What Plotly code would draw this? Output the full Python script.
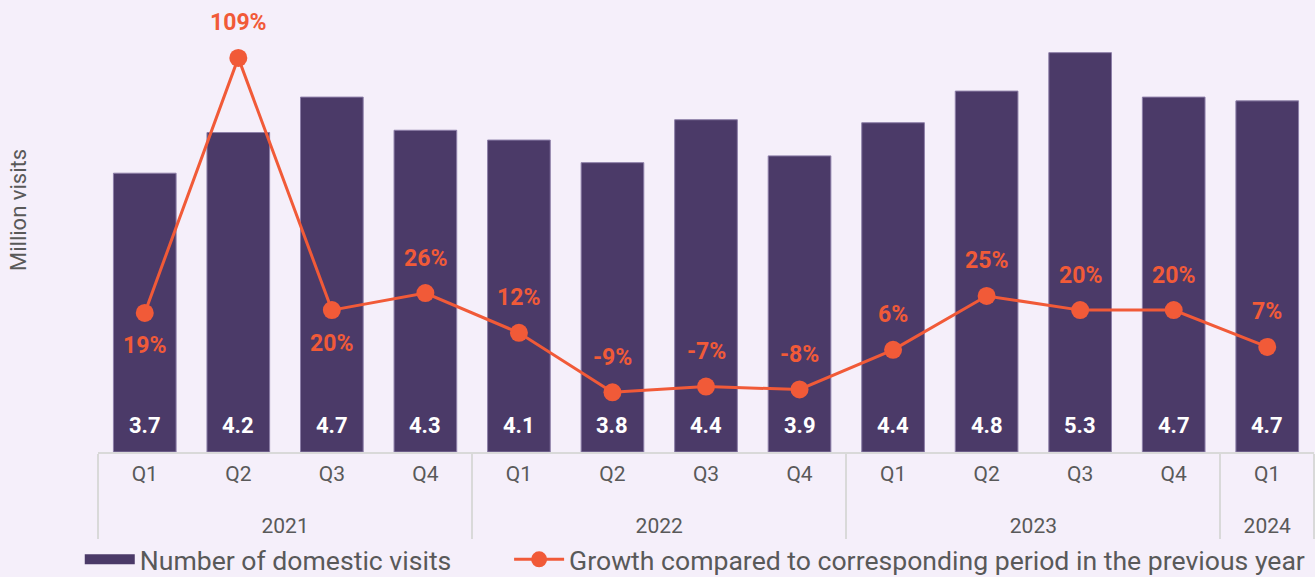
import plotly.graph_objects as go

# data
quarters = ['Q1', 'Q2', 'Q3', 'Q4', 'Q1', 'Q2', 'Q3', 'Q4', 'Q1', 'Q2', 'Q3', 'Q4', 'Q1']
years = ['2021'] * 4 + ['2022'] * 4 + ['2023'] * 4 + ['2024']
visits = [3.70, 4.24, 4.71, 4.27, 4.14, 3.84, 4.41, 3.93, 4.37, 4.79, 5.30, 4.71, 4.66]
growth = [19, 109, 20, 26, 12, -9, -7, -8, 6, 25, 20, 20, 7]
label_below = [True, False, True, False, False, False, False, False, False, False, False, False, False]

BAR_COLOR = '#4b3a68'
LINE_COLOR = '#f15a38'
BG = '#f5effa'
GREY = '#595959'
FONT = 'Roboto'

# leading <br> pushes the year row further below the quarter row
year_labels = [f'<br>{y}' for y in years]
x = [year_labels, quarters]

fig = go.Figure()

fig.add_trace(go.Bar(
    x=x, y=visits,
    name='Number of domestic visits',
    marker=dict(color=BAR_COLOR, line=dict(width=1, color='#8d7fa8')),
    showlegend=False,
))

# legend stand-in so the bar swatch is a wide bar like the original
fig.add_trace(go.Scatter(
    x=[[year_labels[0]], [quarters[0]]], y=[None], mode='lines',
    name='Number of domestic visits' + '\u00a0' * 8,
    line=dict(color=BAR_COLOR, width=15),
))

fig.add_trace(go.Scatter(
    x=x, y=growth,
    name='Growth compared to corresponding period in the previous year',
    mode='lines+markers',
    line=dict(color=LINE_COLOR, width=3),
    marker=dict(color=LINE_COLOR, size=18),
    yaxis='y2',
))

# value labels sitting near the base of each bar
for yr, q, v in zip(year_labels, quarters, visits):
    fig.add_annotation(
        x=[yr, q], y=0, xref='x', yref='y',
        text=f'{v:.1f}', showarrow=False, yanchor='bottom', yshift=12,
        font=dict(family=FONT, size=22, color='white', weight='bold'),
    )

for yr, q, g, below in zip(year_labels, quarters, growth, label_below):
    fig.add_annotation(
        x=[yr, q], y=g, xref='x', yref='y2',
        text=f'{g}%', showarrow=False,
        yshift=-33 if below else 35,
        font=dict(family=FONT, size=23, color=LINE_COLOR, weight='bold'),
    )

fig.add_annotation(
    x=-0.0658, y=0.5475, xref='paper', yref='paper',
    xanchor='center', yanchor='middle',
    text='Million visits', showarrow=False, textangle=-90,
    font=dict(family=FONT, size=22, color=GREY),
)

fig.update_layout(
    width=1315, height=577,
    margin=dict(l=98, r=1, t=10, b=125, autoexpand=False),
    paper_bgcolor=BG, plot_bgcolor=BG,
    font=dict(family=FONT, color=GREY),
    bargap=0.33,
    xaxis=dict(
        type='multicategory',
        range=[-0.5, 12.5],
        showline=True, linecolor='#d9d9d9', linewidth=2,
        showdividers=True, dividercolor='#d9d9d9', dividerwidth=2,
        tickfont=dict(family=FONT, size=21, color=GREY),
        ticklabelstandoff=2,
        ticks='',
    ),
    yaxis=dict(range=[0, 5.866], visible=False, showgrid=False),
    yaxis2=dict(range=[-30.07, 125.9], overlaying='y', visible=False, showgrid=False),
    legend=dict(
        orientation='h', x=-0.015, xanchor='left',
        y=-0.2432, yanchor='middle',
        font=dict(family=FONT, size=26.6, color=GREY),
        itemwidth=50,
        bgcolor='rgba(0,0,0,0)',
    ),
    showlegend=True,
)

fig.write_html('out.html', config={'displayModeBar': False},
               post_script="document.body.style.margin='0';")
